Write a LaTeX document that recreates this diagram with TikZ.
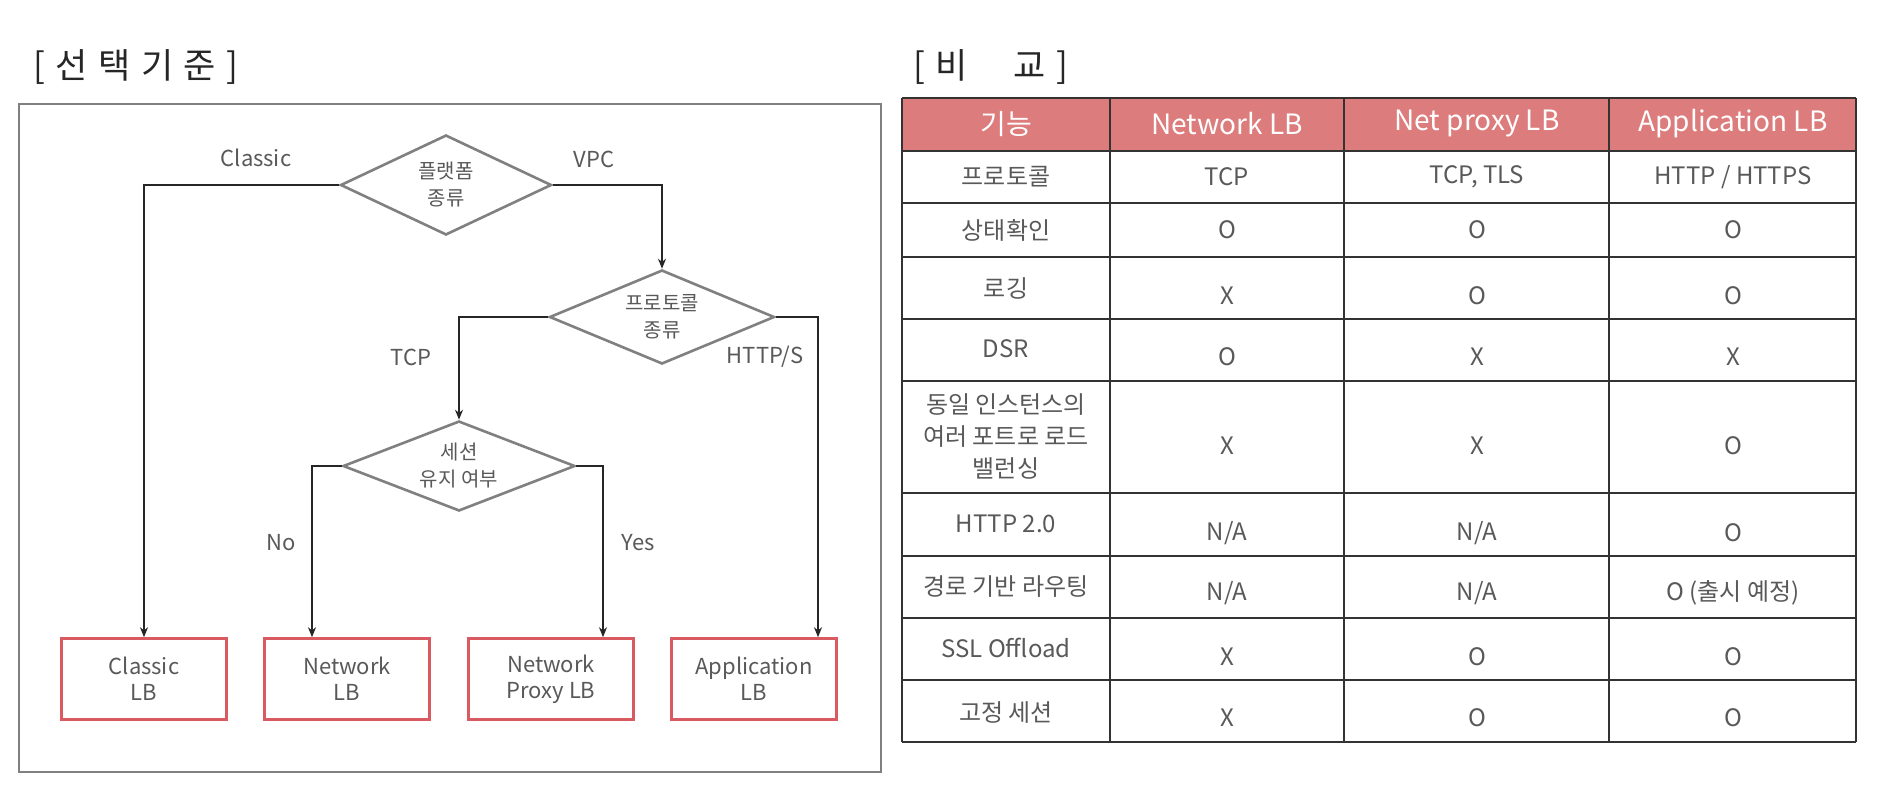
\documentclass[tikz,border=0pt]{standalone}
\usepackage{fontspec}
\setmainfont{Noto Sans CJK KR}
\newfontfamily\titlefont[LetterSpace=30]{Noto Sans CJK KR}
\usetikzlibrary{shapes.geometric,arrows.meta}
\definecolor{hdred}{HTML}{DD7C7C}
\definecolor{boxred}{HTML}{D95A60}
\definecolor{txtgray}{HTML}{595959}
\definecolor{diagray}{HTML}{808080}
\tikzset{
  decision/.style={diamond,aspect=2.3,draw=diagray,line width=2.6pt,inner sep=0pt,align=center,
    text=txtgray,font=\fontsize{20}{27}\selectfont},
  lbbox/.style={rectangle,draw=boxred,line width=2.6pt,minimum width=165pt,
    minimum height=81pt,align=center,text=txtgray,font=\fontsize{22}{26}\selectfont},
  flow/.style={draw=black!85,line width=1.6pt,-{Stealth[length=10pt,width=8pt]}},
  lbl/.style={text=txtgray,font=\fontsize{22}{26}\selectfont},
  tline/.style={draw=black!80,line width=1.4pt},
  hd/.style={text=white,font=\fontsize{28}{32}\selectfont},
  cell/.style={text=txtgray,align=center,font=\fontsize{24}{32}\selectfont},
  heading/.style={anchor=west,text=black!85,font=\titlefont\fontsize{35}{38}\selectfont},
}
\begin{document}
\begin{tikzpicture}[x=1pt,y=-1pt]
\path[use as bounding box,fill=white] (0,0) rectangle (1902,804);
%
\node[heading] (seltitle) at (30,67) {[선택기준]};
\node[heading] (cmptitle) at (910,67) {[비\hspace{1.3em}교]};
\draw[diagray,line width=1.8pt] (19,104) rectangle (881,772);
%
\node[decision,minimum width=211pt,minimum height=100pt] (platform) at (446,185) {플랫폼\\종류};
\node[decision,minimum width=225pt,minimum height=94pt] (protocol) at (662,317) {프로토콜\\종류};
\node[decision,minimum width=232pt,minimum height=90pt] (session) at (459,466) {세션\\유지 여부};
\node[lbbox] (classic) at (144,679) {Classic\\LB};
\node[lbbox] (network) at (347,679) {Network\\LB};
\node[lbbox] (proxy) at (551,679) {Network\\Proxy LB};
\node[lbbox] (application) at (754,679) {Application\\LB};
%
\draw[flow] (platform.west) -| (classic.north);
\draw[flow] (platform.east) -| (protocol.north);
\draw[flow] (protocol.west) -| (session.north);
\draw[flow] (protocol.east) -| ([xshift=64pt]application.north);
\draw[flow] (session.west) -| ([xshift=-35pt]network.north);
\draw[flow] (session.east) -| ([xshift=52pt]proxy.north);
%
\node[lbl] (lclassic) at (256,158) {Classic};
\node[lbl] (lvpc) at (594,159) {VPC};
\node[lbl] (ltcp) at (411,357) {TCP};
\node[lbl] (lhttp) at (765,357) {HTTP/S};
\node[lbl] (lno) at (281,543) {No};
\node[lbl] (lyes) at (638,543) {Yes};
%
\fill[hdred] (902,98) rectangle (1856,151);
\foreach \y in {98,151,203,257,319,381,493,556,618,680,742}
  \draw[tline] (902,\y) -- (1856,\y);
\foreach \x in {902,1110,1344,1609,1856}
  \draw[tline] (\x,98) -- (\x,742);
\foreach \x/\t [count=\i] in {1006/기능,1227/Network LB,1477/Net proxy LB,1733/Application LB}
  \node[hd] (h\i) at (\x,124) {\t};
%
\foreach \y/\v/\a/\b/\c/\d [count=\r] in {
  177/177/프로토콜/TCP/{TCP, TLS}/{HTTP / HTTPS},
  230/230/상태확인/O/O/O,
  288/296/로깅/X/O/O,
  349/357/DSR/O/X/X,
  436/446/{동일 인스턴스의\\여러 포트로 로드\\밸런싱}/X/X/O,
  524/533/HTTP 2.0/{N/A}/{N/A}/O,
  587/593/경로 기반 라우팅/{N/A}/{N/A}/O (출시 예정),
  648/657/SSL Offload/X/O/O,
  712/718/고정 세션/X/O/O}{
  \node[cell] (r\r-0) at (1006,\y) {\a};
  \node[cell] (r\r-1) at (1227,\v) {\b};
  \node[cell] (r\r-2) at (1477,\v) {\c};
  \node[cell] (r\r-3) at (1733,\v) {\d};
}
\end{tikzpicture}
\end{document}
